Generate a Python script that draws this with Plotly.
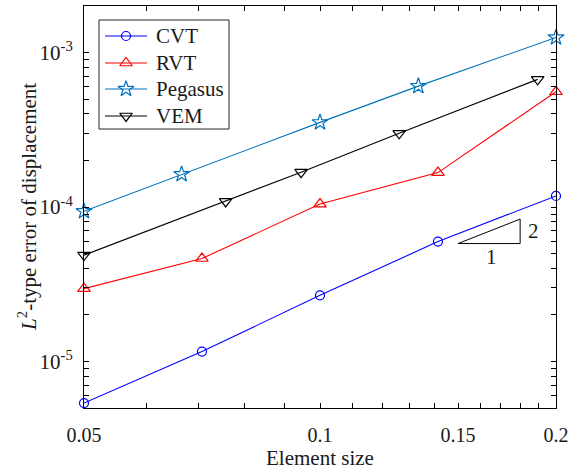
import numpy as np
import plotly.graph_objects as go

# ---- data ----
cvt_x = [0.05, 0.0707, 0.1, 0.1414, 0.2]
cvt_y = [5.38e-6, 1.16e-5, 2.68e-5, 5.97e-5, 1.18e-4]

rvt_x = [0.05, 0.0707, 0.1, 0.1414, 0.2]
rvt_y = [2.96e-5, 4.64e-5, 1.045e-4, 1.67e-4, 5.57e-4]

peg_x = [0.05, 0.0666, 0.1, 0.1335, 0.2]
peg_y = [9.38e-5, 1.63e-4, 3.53e-4, 6.06e-4, 1.25e-3]

vem_x = [0.05, 0.0758, 0.0946, 0.1262, 0.1895]
vem_y = [4.88e-5, 1.086e-4, 1.68e-4, 3.0e-4, 6.7e-4]

series_names = ["CVT", "RVT", "Pegasus", "VEM"]

# slope triangle (slope 2)
tri_x = [0.15, 0.18, 0.18, 0.15]
tri_y = [5.8e-5, 5.8e-5, 8.35e-5, 5.8e-5]

x_tickvals = [0.05, 0.06, 0.07, 0.08, 0.09, 0.1, 0.11, 0.12, 0.13, 0.14,
              0.15, 0.16, 0.17, 0.18, 0.19, 0.2]
x_ticktext = ["0.05", "", "", "", "", "0.1", "", "", "", "",
              "0.15", "", "", "", "", "0.2"]

y_tickvals = []
y_ticktext = []
for e in (-6, -5, -4, -3):
    for m in range(1, 10):
        v = m * 10.0 ** e
        if 5e-6 * 0.999 <= v <= 2e-3 * 1.001:
            y_tickvals.append(v)
            y_ticktext.append("10<sup>%d</sup>" % e if m == 1 else "")

FONT = "Liberation Serif"
TXT = "#1a1a1a"

styles = [("#0000ff", "circle-open", 9),
          ("#ff0000", "triangle-up-open", 11),
          ("#0072bd", "star-open", 12),
          ("#000000", "triangle-down-open", 11)]
series = [(cvt_x, cvt_y), (rvt_x, rvt_y), (peg_x, peg_y), (vem_x, vem_y)]

fig = go.Figure()

for (xs, ys), name, (color, symbol, size) in zip(series, series_names, styles):
    fig.add_trace(go.Scatter(
        x=xs, y=ys, name=name, mode="lines+markers",
        line=dict(color=color, width=1.1),
        marker=dict(symbol=symbol, size=size, color=color,
                    line=dict(width=1.2, color=color)),
        cliponaxis=False, showlegend=False,
    ))

fig.add_trace(go.Scatter(
    x=tri_x, y=tri_y, mode="lines", showlegend=False,
    line=dict(color="#000000", width=1), hoverinfo="skip",
))

# ---- custom legend on an overlay axis (fractions of the plot area) ----
leg_rows = [0.9254, 0.8582, 0.7935, 0.7264]
lx0, lx1, lxm, ltx = 0.0445, 0.1335, 0.089, 0.1483
fig.add_shape(type="rect", xref="x2", yref="y2", x0=0.0318, x1=0.3072,
              y0=0.694, y1=0.9652, line=dict(color="#262626", width=1),
              fillcolor="white", layer="below")
for name, (color, symbol, size), ry in zip(series_names, styles, leg_rows):
    fig.add_trace(go.Scatter(
        x=[lx0, lx1], y=[ry, ry], xaxis="x2", yaxis="y2", mode="lines",
        line=dict(color=color, width=1.1), showlegend=False, hoverinfo="skip"))
    fig.add_trace(go.Scatter(
        x=[lxm], y=[ry], xaxis="x2", yaxis="y2", mode="markers",
        marker=dict(symbol=symbol, size=size, color=color,
                    line=dict(width=1.2, color=color)),
        showlegend=False, hoverinfo="skip"))
    fig.add_annotation(x=ltx, y=ry, xref="x2", yref="y2", text=name,
                       showarrow=False, xanchor="left", yanchor="middle",
                       font=dict(size=21, family=FONT, color=TXT))

fig.add_annotation(x=np.log10(0.18), y=np.log10(np.sqrt(5.8e-5 * 8.35e-5)),
                   xref="x", yref="y", text="2", showarrow=False,
                   xanchor="left", xshift=6, font=dict(size=21, family=FONT, color=TXT))
fig.add_annotation(x=np.log10(np.sqrt(0.15 * 0.18)), y=np.log10(5.8e-5),
                   xref="x", yref="y", text="1", showarrow=False,
                   yanchor="top", yshift=1, xshift=2, font=dict(size=21, family=FONT, color=TXT))

fig.add_annotation(x=-0.121, y=0.5, xref="paper", yref="paper",
                   text="<i>L</i><sup>2</sup>-type error of displacement",
                   textangle=-90, showarrow=False, xanchor="center", yanchor="middle",
                   font=dict(size=21, family=FONT, color=TXT))
fig.add_annotation(x=0.5, y=-0.1244, xref="paper", yref="paper",
                   text="Element size", showarrow=False,
                   xanchor="center", yanchor="middle",
                   font=dict(size=21, family=FONT, color=TXT))

axis_common = dict(
    showline=True, linecolor="#000000", linewidth=1, mirror="ticks",
    ticks="inside", ticklen=5, tickwidth=1, tickcolor="#000000",
    showgrid=False, zeroline=False, automargin=False,
)

fig.update_layout(
    xaxis=dict(type="log", range=[np.log10(0.05), np.log10(0.2)],
               tickmode="array", tickvals=x_tickvals, ticktext=x_ticktext,
               ticklabelstandoff=9, tickfont=dict(size=20, family=FONT, color=TXT),
               **axis_common),
    yaxis=dict(type="log", range=[np.log10(5e-6), np.log10(2e-3)],
               tickmode="array", tickvals=y_tickvals, ticktext=y_ticktext,
               ticklabelstandoff=6, tickfont=dict(size=21, family=FONT, color=TXT),
               **axis_common),
    xaxis2=dict(overlaying="x", range=[0, 1], visible=False, fixedrange=True),
    yaxis2=dict(overlaying="y", range=[0, 1], visible=False, fixedrange=True),
    width=570, height=470,
    margin=dict(l=84, r=14, t=6, b=62),
    paper_bgcolor="white", plot_bgcolor="white",
    font=dict(family=FONT, color=TXT),
    showlegend=False,
)

fig.write_html("out.html")
